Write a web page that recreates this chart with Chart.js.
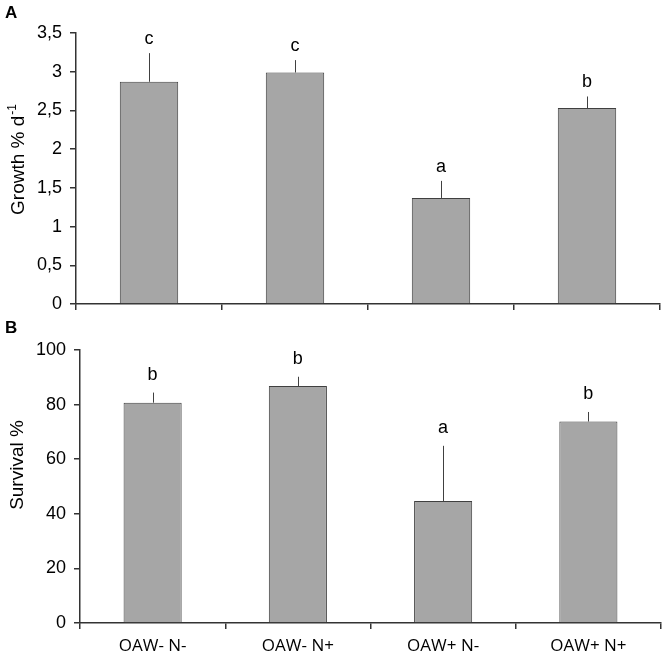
<!DOCTYPE html>
<html>
<head>
<meta charset="utf-8">
<script src="https://cdn.jsdelivr.net/npm/chart.js@4.4.1/dist/chart.umd.min.js"></script>
<style>
  html, body { margin: 0; padding: 0; background: #fff; }
  #wrap { position: relative; width: 666px; height: 663px; }
  canvas { position: absolute; left: 0; }
  #growthChart { top: 0; }
  #survivalChart { top: 314px; }
</style>
</head>
<body>
<div id="wrap">
  <canvas id="growthChart" width="666" height="330"></canvas>
  <canvas id="survivalChart" width="666" height="349"></canvas>
</div>
<script>
// Treatment groups
const groups = ['OAW- N-', 'OAW- N+', 'OAW+ N-', 'OAW+ N+'];

// Panel A: growth (% per day), upper error and significance letters
const growth = [2.87, 2.99, 1.37, 2.53];
const growthErr = [0.37, 0.16, 0.22, 0.15];
const growthLetters = ['c', 'c', 'a', 'b'];
const growthTicks = [0, 0.5, 1, 1.5, 2, 2.5, 3, 3.5];

// Panel B: survival (%), upper error and significance letters
const survival = [80.7, 86.8, 44.7, 73.8];
const survivalErr = [3.7, 3.4, 20.2, 3.5];
const survivalLetters = ['b', 'b', 'a', 'b'];
const survivalTicks = [0, 20, 40, 60, 80, 100];

const AXIS = '#333333';
const FONT = '"Liberation Sans", Arial, sans-serif';

/**
 * Draws upper error whiskers, letters above them, y title and panel letter
 */
const annotPlugin = {
    id: 'annot',
    afterDatasetsDraw(chart, args, opts) {
        const ctx = chart.ctx;
        const meta = chart.getDatasetMeta(0);
        const yScale = chart.scales.y;
        const values = chart.data.datasets[0].data;

        ctx.save();
        meta.data.forEach(function(bar, i) {
            const yTop = yScale.getPixelForValue(values[i] + opts.errors[i]);
            ctx.strokeStyle = '#404040';
            ctx.lineWidth = 1;
            ctx.beginPath();
            ctx.moveTo(Math.round(bar.x) + 0.5, bar.y);
            ctx.lineTo(Math.round(bar.x) + 0.5, yTop);
            ctx.stroke();

            ctx.fillStyle = '#000';
            ctx.font = '18px ' + FONT;
            ctx.textAlign = 'center';
            ctx.textBaseline = 'alphabetic';
            ctx.fillText(opts.letters[i], bar.x, yTop - opts.letterGap);
        });

        // rotated y axis title, with optional superscript
        ctx.translate(opts.titleX, opts.titleY);
        ctx.rotate(-Math.PI / 2);
        ctx.fillStyle = '#000';
        ctx.textBaseline = 'middle';
        ctx.textAlign = 'left';
        ctx.font = '19px ' + FONT;
        const w = ctx.measureText(opts.yTitle).width;
        ctx.font = '12px ' + FONT;
        const ws = opts.sup ? ctx.measureText(opts.sup).width : 0;
        const x0 = -(w + ws) / 2;
        ctx.font = '19px ' + FONT;
        ctx.fillText(opts.yTitle, x0, 0);
        if (opts.sup) {
            ctx.font = '12px ' + FONT;
            ctx.fillText(opts.sup, x0 + w + 1, -6);
        }
        ctx.restore();

        // panel letter
        ctx.save();
        ctx.fillStyle = '#000';
        ctx.font = 'bold 17px ' + FONT;
        ctx.textAlign = 'left';
        ctx.textBaseline = 'middle';
        ctx.fillText(opts.panel, opts.panelX, opts.panelY);
        ctx.restore();
    }
};

function makeChart(id, cfg) {
    const ctx = document.getElementById(id).getContext('2d');
    return new Chart(ctx, {
        type: 'bar',
        data: {
            labels: groups,
            datasets: [{
                data: cfg.values,
                backgroundColor: '#a6a6a6',
                borderColor: '#404040',
                borderWidth: 1,
                borderSkipped: 'bottom',
                barPercentage: 0.4,
                categoryPercentage: 1
            }]
        },
        options: {
            responsive: false,
            animation: false,
            layout: { padding: cfg.padding },
            scales: {
                x: {
                    offset: true,
                    border: { color: AXIS, width: 1.5 },
                    grid: {
                        offset: true,
                        drawOnChartArea: false,
                        drawTicks: true,
                        tickLength: 6,
                        color: AXIS,
                        lineWidth: 1.5
                    },
                    ticks: {
                        display: cfg.showLabels,
                        color: '#000',
                        padding: 7,
                        font: { family: '"Open Sans", sans-serif', size: 17 }
                    },
                    afterFit: function(scale) { scale.height = cfg.xHeight; }
                },
                y: {
                    min: 0,
                    max: cfg.ticks[cfg.ticks.length - 1],
                    afterBuildTicks: function(scale) {
                        scale.ticks = cfg.ticks.map(function(v) { return { value: v }; });
                    },
                    border: { color: AXIS, width: 1.5 },
                    grid: {
                        drawOnChartArea: false,
                        drawTicks: true,
                        tickLength: 6,
                        color: AXIS,
                        lineWidth: 1.5
                    },
                    ticks: {
                        color: '#000',
                        padding: 8,
                        font: { family: FONT, size: 18 },
                        callback: function(v) { return String(v).replace('.', ','); }
                    },
                    afterFit: function(scale) { scale.width = cfg.yWidth; }
                }
            },
            plugins: {
                legend: { display: false },
                tooltip: { enabled: false },
                annot: cfg.annot
            }
        },
        plugins: [annotPlugin]
    });
}

makeChart('growthChart', {
    values: growth,
    ticks: growthTicks,
    padding: { top: 33, right: 6, bottom: 16, left: 0 },
    yWidth: 76,
    xHeight: 10,
    showLabels: false,
    annot: {
        errors: growthErr,
        letters: growthLetters,
        letterGap: 9,
        yTitle: 'Growth % d',
        sup: '-1',
        titleX: 19,
        titleY: 160,
        panel: 'A',
        panelX: 5,
        panelY: 13
    }
});

makeChart('survivalChart', {
    values: survival,
    ticks: survivalTicks,
    padding: { top: 36, right: 5, bottom: 0, left: 0 },
    yWidth: 80,
    xHeight: 40,
    showLabels: true,
    annot: {
        errors: survivalErr,
        letters: survivalLetters,
        letterGap: 13,
        yTitle: 'Survival %',
        sup: '',
        titleX: 18,
        titleY: 151,
        panel: 'B',
        panelX: 5,
        panelY: 14
    }
});
</script>
</body>
</html>
